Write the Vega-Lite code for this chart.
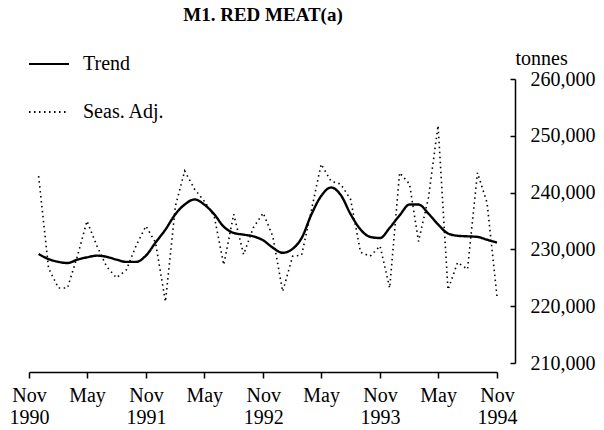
{
  "$schema": "https://vega.github.io/schema/vega-lite/v6.json",
  "width": 468,
  "height": 284,
  "autosize": {"type": "none"},
  "padding": {"left": 29, "top": 79, "right": 107, "bottom": 67},
  "background": "white",
  "config": {
    "view": {"stroke": null},
    "font": "Liberation Serif",
    "axis": {
      "grid": false,
      "domainColor": "black",
      "tickColor": "black",
      "labelColor": "black",
      "titleColor": "black",
      "labelFont": "Liberation Serif",
      "titleFont": "Liberation Serif",
      "labelFontSize": 20,
      "titleFontSize": 20,
      "titleFontWeight": "normal",
      "domainWidth": 1.5,
      "tickWidth": 1.5
    }
  },
  "title": {
    "text": "M1. RED MEAT(a)",
    "font": "Liberation Serif",
    "fontSize": 19,
    "fontWeight": "bold",
    "anchor": "middle",
    "frame": "group",
    "color": "black",
    "offset": 23
  },
  "data": {
    "values": [
      {"d": "1990-12-01", "s": "Seas. Adj.", "v": 242900},
      {"d": "1991-01-01", "s": "Seas. Adj.", "v": 226700},
      {"d": "1991-02-01", "s": "Seas. Adj.", "v": 223200},
      {"d": "1991-03-01", "s": "Seas. Adj.", "v": 223200},
      {"d": "1991-04-01", "s": "Seas. Adj.", "v": 228800},
      {"d": "1991-05-01", "s": "Seas. Adj.", "v": 235000},
      {"d": "1991-06-01", "s": "Seas. Adj.", "v": 230600},
      {"d": "1991-07-01", "s": "Seas. Adj.", "v": 227000},
      {"d": "1991-08-01", "s": "Seas. Adj.", "v": 225000},
      {"d": "1991-09-01", "s": "Seas. Adj.", "v": 226400},
      {"d": "1991-10-01", "s": "Seas. Adj.", "v": 230600},
      {"d": "1991-11-01", "s": "Seas. Adj.", "v": 234100},
      {"d": "1991-12-01", "s": "Seas. Adj.", "v": 231200},
      {"d": "1992-01-01", "s": "Seas. Adj.", "v": 220800},
      {"d": "1992-02-01", "s": "Seas. Adj.", "v": 237600},
      {"d": "1992-03-01", "s": "Seas. Adj.", "v": 243800},
      {"d": "1992-04-01", "s": "Seas. Adj.", "v": 240600},
      {"d": "1992-05-01", "s": "Seas. Adj.", "v": 238500},
      {"d": "1992-06-01", "s": "Seas. Adj.", "v": 235900},
      {"d": "1992-07-01", "s": "Seas. Adj.", "v": 227300},
      {"d": "1992-08-01", "s": "Seas. Adj.", "v": 236200},
      {"d": "1992-09-01", "s": "Seas. Adj.", "v": 229100},
      {"d": "1992-10-01", "s": "Seas. Adj.", "v": 233800},
      {"d": "1992-11-01", "s": "Seas. Adj.", "v": 236400},
      {"d": "1992-12-01", "s": "Seas. Adj.", "v": 232300},
      {"d": "1993-01-01", "s": "Seas. Adj.", "v": 222600},
      {"d": "1993-02-01", "s": "Seas. Adj.", "v": 228800},
      {"d": "1993-03-01", "s": "Seas. Adj.", "v": 229000},
      {"d": "1993-04-01", "s": "Seas. Adj.", "v": 237000},
      {"d": "1993-05-01", "s": "Seas. Adj.", "v": 245000},
      {"d": "1993-06-01", "s": "Seas. Adj.", "v": 242000},
      {"d": "1993-07-01", "s": "Seas. Adj.", "v": 241500},
      {"d": "1993-08-01", "s": "Seas. Adj.", "v": 238800},
      {"d": "1993-09-01", "s": "Seas. Adj.", "v": 229500},
      {"d": "1993-10-01", "s": "Seas. Adj.", "v": 228800},
      {"d": "1993-11-01", "s": "Seas. Adj.", "v": 230600},
      {"d": "1993-12-01", "s": "Seas. Adj.", "v": 223200},
      {"d": "1994-01-01", "s": "Seas. Adj.", "v": 243500},
      {"d": "1994-02-01", "s": "Seas. Adj.", "v": 241500},
      {"d": "1994-03-01", "s": "Seas. Adj.", "v": 231400},
      {"d": "1994-04-01", "s": "Seas. Adj.", "v": 239100},
      {"d": "1994-05-01", "s": "Seas. Adj.", "v": 251800},
      {"d": "1994-06-01", "s": "Seas. Adj.", "v": 222900},
      {"d": "1994-07-01", "s": "Seas. Adj.", "v": 227700},
      {"d": "1994-08-01", "s": "Seas. Adj.", "v": 226500},
      {"d": "1994-09-01", "s": "Seas. Adj.", "v": 243500},
      {"d": "1994-10-01", "s": "Seas. Adj.", "v": 238200},
      {"d": "1994-11-01", "s": "Seas. Adj.", "v": 221700},
      {"d": "1990-12-01", "s": "Trend", "v": 229200},
      {"d": "1991-01-01", "s": "Trend", "v": 228300},
      {"d": "1991-02-01", "s": "Trend", "v": 227800},
      {"d": "1991-03-01", "s": "Trend", "v": 227600},
      {"d": "1991-04-01", "s": "Trend", "v": 228200},
      {"d": "1991-05-01", "s": "Trend", "v": 228600},
      {"d": "1991-06-01", "s": "Trend", "v": 228900},
      {"d": "1991-07-01", "s": "Trend", "v": 228700},
      {"d": "1991-08-01", "s": "Trend", "v": 228200},
      {"d": "1991-09-01", "s": "Trend", "v": 227800},
      {"d": "1991-10-01", "s": "Trend", "v": 227800},
      {"d": "1991-11-01", "s": "Trend", "v": 228900},
      {"d": "1991-12-01", "s": "Trend", "v": 231200},
      {"d": "1992-01-01", "s": "Trend", "v": 233500},
      {"d": "1992-02-01", "s": "Trend", "v": 236200},
      {"d": "1992-03-01", "s": "Trend", "v": 237900},
      {"d": "1992-04-01", "s": "Trend", "v": 238800},
      {"d": "1992-05-01", "s": "Trend", "v": 237900},
      {"d": "1992-06-01", "s": "Trend", "v": 236200},
      {"d": "1992-07-01", "s": "Trend", "v": 234000},
      {"d": "1992-08-01", "s": "Trend", "v": 232900},
      {"d": "1992-09-01", "s": "Trend", "v": 232600},
      {"d": "1992-10-01", "s": "Trend", "v": 232300},
      {"d": "1992-11-01", "s": "Trend", "v": 231600},
      {"d": "1992-12-01", "s": "Trend", "v": 230300},
      {"d": "1993-01-01", "s": "Trend", "v": 229400},
      {"d": "1993-02-01", "s": "Trend", "v": 230100},
      {"d": "1993-03-01", "s": "Trend", "v": 232000},
      {"d": "1993-04-01", "s": "Trend", "v": 236200},
      {"d": "1993-05-01", "s": "Trend", "v": 239400},
      {"d": "1993-06-01", "s": "Trend", "v": 240900},
      {"d": "1993-07-01", "s": "Trend", "v": 239600},
      {"d": "1993-08-01", "s": "Trend", "v": 236200},
      {"d": "1993-09-01", "s": "Trend", "v": 233500},
      {"d": "1993-10-01", "s": "Trend", "v": 232200},
      {"d": "1993-11-01", "s": "Trend", "v": 232000},
      {"d": "1993-12-01", "s": "Trend", "v": 233800},
      {"d": "1994-01-01", "s": "Trend", "v": 236000},
      {"d": "1994-02-01", "s": "Trend", "v": 237900},
      {"d": "1994-03-01", "s": "Trend", "v": 237900},
      {"d": "1994-04-01", "s": "Trend", "v": 236300},
      {"d": "1994-05-01", "s": "Trend", "v": 234400},
      {"d": "1994-06-01", "s": "Trend", "v": 232800},
      {"d": "1994-07-01", "s": "Trend", "v": 232400},
      {"d": "1994-08-01", "s": "Trend", "v": 232300},
      {"d": "1994-09-01", "s": "Trend", "v": 232200},
      {"d": "1994-10-01", "s": "Trend", "v": 231700},
      {"d": "1994-11-01", "s": "Trend", "v": 231200}
    ]
  },
  "encoding": {
    "x": {
      "field": "d",
      "type": "temporal",
      "scale": {
        "type": "utc",
        "nice": false,
        "domain": [
          {"year": 1990, "month": 11, "date": 1, "utc": true},
          {"year": 1994, "month": 11, "date": 1, "utc": true}
        ]
      },
      "axis": {
        "title": null,
        "offset": 9,
        "tickSize": 6,
        "labelPadding": 7,
        "labelLineHeight": 22,
        "labelFlush": false,
        "labelOverlap": false,
        "values": [
          {"year": 1990, "month": 11, "date": 1, "utc": true},
          {"year": 1991, "month": 5, "date": 1, "utc": true},
          {"year": 1991, "month": 11, "date": 1, "utc": true},
          {"year": 1992, "month": 5, "date": 1, "utc": true},
          {"year": 1992, "month": 11, "date": 1, "utc": true},
          {"year": 1993, "month": 5, "date": 1, "utc": true},
          {"year": 1993, "month": 11, "date": 1, "utc": true},
          {"year": 1994, "month": 5, "date": 1, "utc": true},
          {"year": 1994, "month": 11, "date": 1, "utc": true}
        ],
        "labelExpr": "[utcFormat(datum.value, '%b'), utcFormat(datum.value, '%m') == '11' ? utcFormat(datum.value, '%Y') : '']"
      }
    },
    "y": {
      "field": "v",
      "type": "quantitative",
      "scale": {"domain": [210000, 260000], "nice": false, "zero": false},
      "axis": {
        "orient": "right",
        "offset": 18,
        "values": [210000, 220000, 230000, 240000, 250000, 260000],
        "format": ",.0f",
        "tickSize": -5,
        "labelPadding": 20,
        "title": "tonnes",
        "titleAngle": 0,
        "titleAlign": "left",
        "titleBaseline": "alphabetic",
        "titleX": 0,
        "titleY": -15
      }
    },
    "strokeDash": {
      "field": "s",
      "type": "nominal",
      "scale": {"domain": ["Trend", "Seas. Adj."], "range": [[1, 0], [1.5, 3.5]]},
      "legend": {
        "orient": "none",
        "legendX": -1,
        "legendY": -25,
        "title": null,
        "symbolType": "stroke",
        "symbolSize": 1600,
        "symbolStrokeColor": "black",
        "symbolStrokeWidth": 2,
        "labelFont": "Liberation Serif",
        "labelFontSize": 20,
        "labelColor": "black",
        "labelOffset": 13,
        "rowPadding": 28,
        "clipHeight": 20,
        "padding": 0
      }
    }
  },
  "layer": [
    {
      "transform": [{"filter": "datum.s == 'Seas. Adj.'"}],
      "mark": {"type": "line", "color": "black", "strokeWidth": 1.6}
    },
    {
      "transform": [{"filter": "datum.s == 'Trend'"}],
      "mark": {"type": "line", "color": "black", "strokeWidth": 2.4, "interpolate": "monotone"}
    }
  ]
}
